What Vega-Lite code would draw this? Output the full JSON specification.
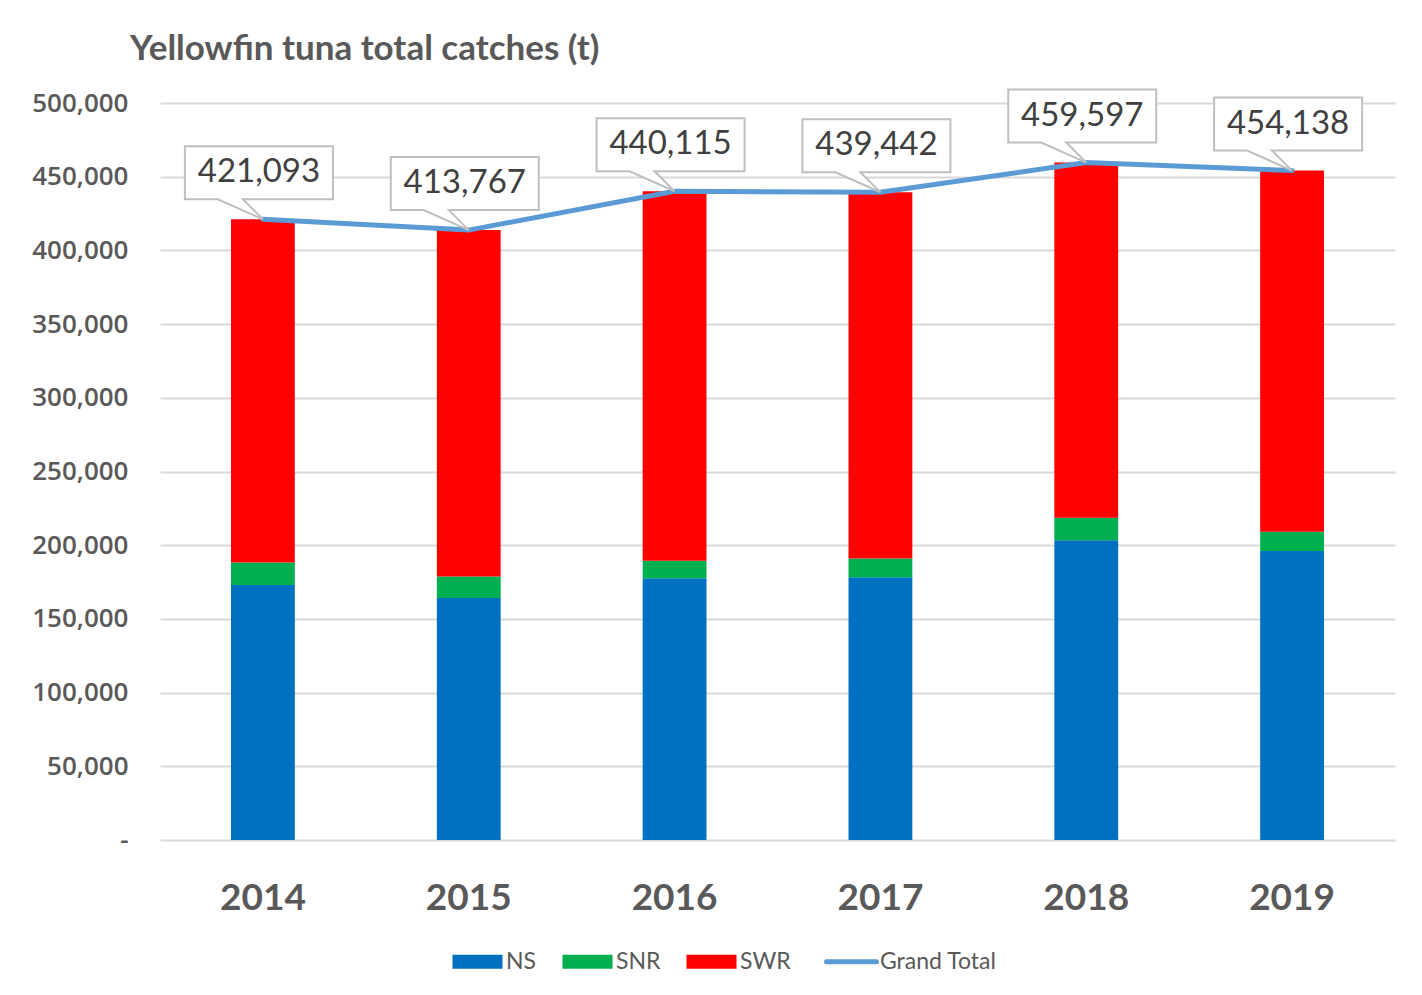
{
  "$schema": "https://vega.github.io/schema/vega-lite/v6.json",
  "autosize": {"type": "none"},
  "width": 1235,
  "height": 737,
  "padding": {"left": 160, "top": 103, "right": 27, "bottom": 155},
  "background": "white",
  "title": {
    "text": "Yellowfin tuna total catches (t)",
    "anchor": "start",
    "frame": "group",
    "dx": -30,
    "offset": 19,
    "font": "Lato",
    "fontSize": 35,
    "fontWeight": "bold",
    "color": "#595959"
  },
  "datasets": {
    "bars": [
      {"year": "2014", "series": "NS", "catch": 173000},
      {"year": "2014", "series": "SNR", "catch": 15300},
      {"year": "2014", "series": "SWR", "catch": 232793},
      {"year": "2015", "series": "NS", "catch": 164200},
      {"year": "2015", "series": "SNR", "catch": 14600},
      {"year": "2015", "series": "SWR", "catch": 234967},
      {"year": "2016", "series": "NS", "catch": 177500},
      {"year": "2016", "series": "SNR", "catch": 11900},
      {"year": "2016", "series": "SWR", "catch": 250715},
      {"year": "2017", "series": "NS", "catch": 178200},
      {"year": "2017", "series": "SNR", "catch": 12800},
      {"year": "2017", "series": "SWR", "catch": 248442},
      {"year": "2018", "series": "NS", "catch": 203400},
      {"year": "2018", "series": "SNR", "catch": 15300},
      {"year": "2018", "series": "SWR", "catch": 240897},
      {"year": "2019", "series": "NS", "catch": 196100},
      {"year": "2019", "series": "SNR", "catch": 13100},
      {"year": "2019", "series": "SWR", "catch": 244938}
    ],
    "totals": [
      {"year": "2014", "total": 421093},
      {"year": "2015", "total": 413767},
      {"year": "2016", "total": 440115},
      {"year": "2017", "total": 439442},
      {"year": "2018", "total": 459597},
      {"year": "2019", "total": 454138}
    ]
  },
  "encoding": {
    "x": {
      "field": "year",
      "type": "nominal",
      "scale": {"paddingInner": 0.69, "paddingOuter": 0.345},
      "axis": {
        "title": null,
        "domain": false,
        "ticks": false,
        "labelAngle": 0,
        "labelPadding": 40,
        "labelFont": "Lato",
        "labelFontSize": 37,
        "labelFontWeight": "bold",
        "labelColor": "#595959"
      }
    }
  },
  "layer": [
    {
      "data": {"name": "bars"},
      "mark": {"type": "bar"},
      "encoding": {
        "y": {
          "field": "catch",
          "type": "quantitative",
          "aggregate": "sum",
          "stack": "zero",
          "scale": {"domain": [0, 500000], "nice": false},
          "axis": {
            "title": null,
            "domain": false,
            "ticks": false,
            "values": [0, 50000, 100000, 150000, 200000, 250000, 300000, 350000, 400000, 450000, 500000],
            "labelExpr": "datum.value == 0 ? '-\u00a0\u00a0\u00a0\u00a0' : format(datum.value, ',')",
            "labelPadding": 32,
            "labelFont": "Open Sans",
            "labelFontSize": 26,
            "labelFontWeight": 600,
            "labelColor": "#595959",
            "gridColor": "#d9d9d9",
            "gridWidth": 2
          }
        },
        "order": {"field": "series", "sort": "ascending"},
        "color": {
          "field": "series",
          "type": "nominal",
          "scale": {
            "domain": ["NS", "SNR", "SWR", "Grand Total"],
            "range": ["#0070C0", "#00B050", "#FF0000", "#5B9BD5"]
          },
          "legend": {
            "title": null,
            "orient": "none",
            "legendX": 306,
            "legendY": 847,
            "direction": "horizontal",
            "columns": 4,
            "columnPadding": 25,
            "labelOffset": 17,
            "labelFont": "Lato",
            "labelFontSize": 23,
            "labelColor": "#595959",
            "symbolSize": 2500,
            "symbolOpacity": 1,
            "encode": {
              "symbols": {
                "update": {
                  "shape": {"signal": "datum.label === 'Grand Total' ? 'stroke' : 'M-1,-0.28H1V0.28H-1Z'"},
                  "fill": {"signal": "scale('color', datum.value)"},
                  "stroke": {"signal": "scale('color', datum.value)"},
                  "strokeWidth": {"signal": "datum.label === 'Grand Total' ? 5 : 0"},
                  "strokeCap": {"value": "round"},
                  "opacity": {"value": 1}
                }
              }
            }
          }
        }
      }
    },
    {
      "data": {"name": "totals"},
      "mark": {"type": "line", "strokeWidth": 5, "strokeCap": "round"},
      "encoding": {
        "y": {"field": "total", "type": "quantitative"},
        "color": {"datum": "Grand Total"}
      }
    },
    {
      "data": {"name": "totals"},
      "mark": {
        "type": "point",
        "shape": "M-1.56,-1.46H1.4V-0.4H-0.4L0,0L-0.9,-0.4H-1.56Z",
        "size": 10000,
        "filled": true,
        "fill": "white",
        "stroke": "#bfbfbf",
        "strokeWidth": 2,
        "opacity": 1
      },
      "encoding": {
        "y": {"field": "total", "type": "quantitative"}
      }
    },
    {
      "data": {"name": "totals"},
      "mark": {
        "type": "text",
        "dy": -47,
        "dx": -4,
        "baseline": "middle",
        "align": "center",
        "font": "Lato",
        "fontSize": 33,
        "color": "#404040"
      },
      "encoding": {
        "y": {"field": "total", "type": "quantitative"},
        "text": {"field": "total", "type": "quantitative", "format": ","}
      }
    }
  ],
  "config": {
    "view": {"stroke": null}
  }
}
